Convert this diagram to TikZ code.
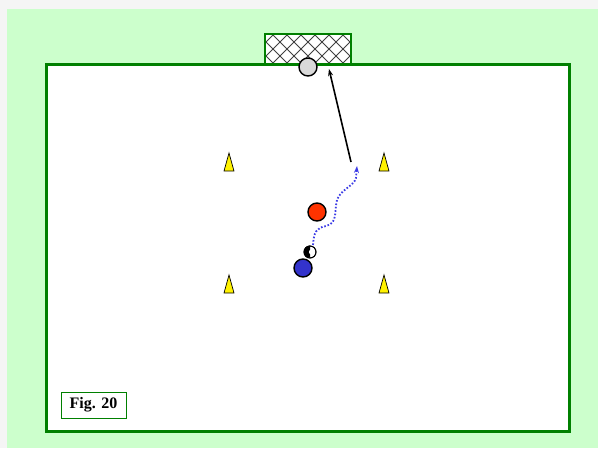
\documentclass[tikz,border=0pt]{standalone}
\usetikzlibrary{arrows.meta}
\usepackage{fontspec}
\setmainfont{Liberation Serif}
\definecolor{pitchgreen}{RGB}{0,128,0}
\definecolor{bggreen}{RGB}{204,255,204}
\definecolor{redp}{RGB}{255,51,0}
\definecolor{bluep}{RGB}{51,51,204}
\definecolor{dribble}{RGB}{60,60,230}
\begin{document}
\begin{tikzpicture}[x=1pt,y=-1pt,
  fieldline/.style={draw=pitchgreen,line width=3pt},
  player/.style={circle,draw=black,line width=1.4pt,minimum size=18pt,inner sep=0pt},
  cone/.style={fill=yellow,draw=black,line width=0.7pt},
  figbox/.style={draw=pitchgreen,line width=1pt,fill=white,font=\fontsize{16}{18}\selectfont\bfseries,minimum width=65pt,minimum height=26pt,inner sep=0pt}]
\useasboundingbox (0,0) rectangle (598,448);
\fill[gray!8] (0,0) rectangle (598,448);
\fill[bggreen] (7,9) rectangle (598,448);
% goal
\fill[white] (265,34) rectangle (351,64);
\begin{scope}
  \clip (265,34) rectangle (351,64);
  \foreach \k in {-3,...,9}{
    \draw[black!75,line width=0.9pt] (265+14*\k-7,34) -- ++(30,30);
    \draw[black!75,line width=0.9pt] (265+14*\k-7,64) -- ++(30,-30);
  }
\end{scope}
\draw[draw=pitchgreen,line width=2.5pt] (265,64) -- (265,34) -- (351,34) -- (351,64);
% field
\filldraw[fieldline,fill=white] (46,64) rectangle (569,431);
% cones
\foreach \cx/\cy in {229/162,384/162,229/284,384/284}{
  \draw[cone] (\cx-5,\cy+9) -- (\cx,\cy-9) -- (\cx+5,\cy+9) -- cycle;
}
% ball at goal
\node[player,fill=gray!30] (ballG) at (308,67) {};
% shot arrow
\coordinate (shotS) at (351,162);
\coordinate (shotE) at (329,69);
\draw[-{Stealth[length=7pt,width=5pt]},line width=1.6pt] (shotS) -- (shotE);
% players
\node[player,fill=redp] (red) at (317,212) {};
\node[player,fill=bluep] (blue) at (303,268) {};
% small ball
\node[circle,draw=black,line width=0.9pt,fill=white,minimum size=12pt,inner sep=0pt] (ball) at (310,252) {};
\fill[black] (ball.north) arc[start angle=90,end angle=270,radius=6pt] -- cycle;
\fill[white] (311.5,252) circle (2.6pt);
\draw[line width=0.9pt] (ball) circle (6pt);
% dribble path
\coordinate (dS) at (313,245);
\coordinate (dE) at (357,166);
\draw[dash pattern=on 1.6pt off 1.8pt,line width=1.8pt,draw=dribble,-{Stealth[length=7pt,width=5pt]}]
  (dS) .. controls (314,232) and (316,228) .. (326,226)
  .. controls (338,223) and (334,212) .. (337,200)
  .. controls (340,190) and (354,186) .. (356,178) -- (dE);
% fig label
\node[figbox] (fig) at (93.5,405) {Fig. 20};
\end{tikzpicture}
\end{document}
